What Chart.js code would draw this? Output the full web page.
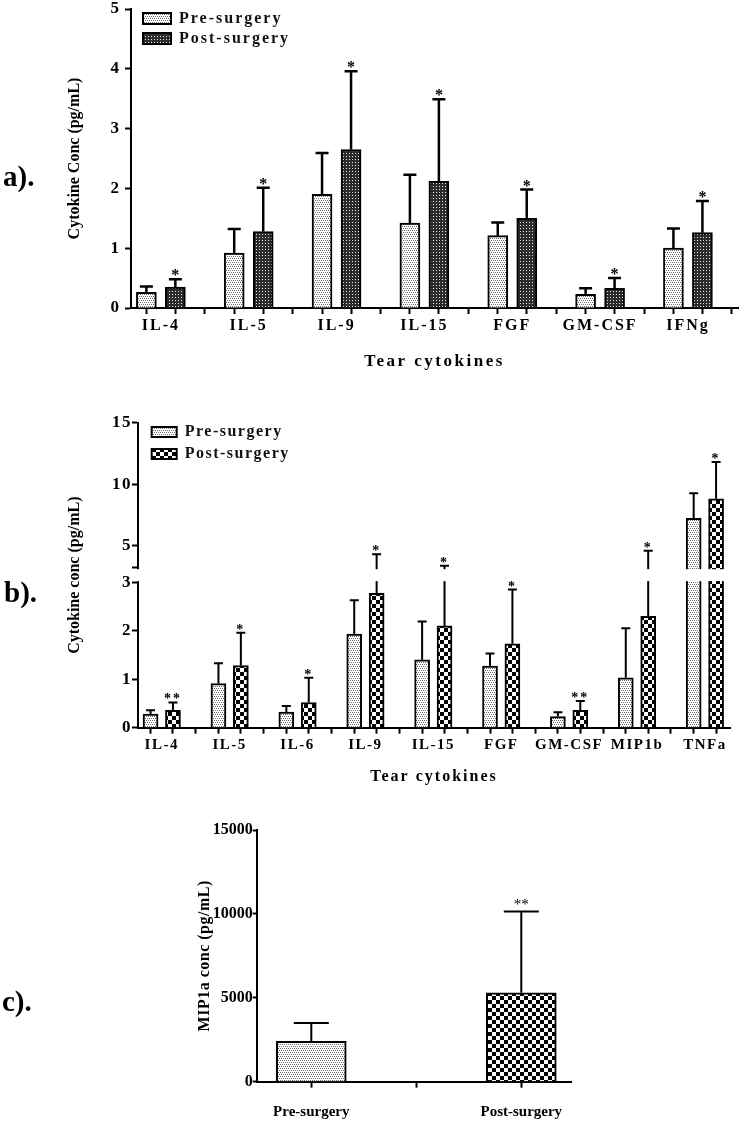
<!DOCTYPE html>
<html>
<head>
<meta charset="utf-8">
<script src="https://cdn.jsdelivr.net/npm/chart.js@4.4.1/dist/chart.umd.min.js"></script>
<style>
html,body{margin:0;padding:0;background:#fff;}
#page{position:relative;width:750px;height:1125px;overflow:hidden;background:#fff;}
canvas{position:absolute;left:0;}
.plabel{position:absolute;font-family:'Liberation Serif','Times New Roman',serif;font-weight:bold;font-size:29px;line-height:1;color:#000;}
</style>
</head>
<body>
<div id="page">
  <canvas id="cA" width="750" height="410" style="top:-10px"></canvas>
  <canvas id="cB" width="750" height="400" style="top:400px"></canvas>
  <canvas id="cC" width="750" height="325" style="top:800px"></canvas>
  <div class="plabel" style="left:3px;top:162px">a).</div>
  <div class="plabel" style="left:4px;top:578px">b).</div>
  <div class="plabel" style="left:2px;top:987px">c).</div>
</div>
<script>
// ---------------- DATA ----------------
const seriesNames = ['Pre-surgery', 'Post-surgery'];

// Panel a
const catsA = ['IL-4', 'IL-5', 'IL-9', 'IL-15', 'FGF', 'GM-CSF', 'IFNg'];
const preA = [0.26, 0.92, 1.90, 1.42, 1.21, 0.23, 1.00];
const preErrA = [0.36, 1.32, 2.59, 2.23, 1.43, 0.33, 1.33];
const postA = [0.35, 1.28, 2.65, 2.12, 1.50, 0.33, 1.26];
const postErrA = [0.48, 2.01, 3.96, 3.49, 1.98, 0.50, 1.79];
const starsA = ['*', '*', '*', '*', '*', '*', '*'];
const yTicksA = [0, 1, 2, 3, 4, 5];

// Panel b
const catsB = ['IL-4', 'IL-5', 'IL-6', 'IL-9', 'IL-15', 'FGF', 'GM-CSF', 'MIP1b', 'TNFa'];
const preB = [0.28, 0.91, 0.32, 1.93, 1.40, 1.27, 0.23, 1.03, 7.23];
const preErrB = [0.36, 1.33, 0.45, 2.63, 2.19, 1.53, 0.32, 2.05, 9.26];
const postB = [0.36, 1.28, 0.52, 2.77, 2.10, 1.73, 0.36, 2.30, 8.82];
const postErrB = [0.52, 1.96, 1.03, 4.30, 3.37, 2.85, 0.55, 4.59, 11.80];
const starsB = ['**', '*', '*', '*', '*', '*', '**', '*', '*'];
const yTicksLowB = [0, 1, 2, 3];
const yTicksHighB = [5, 10, 15];
const breakLowB = 3;      // top of lower segment
const breakHighB = 3.19;  // bottom of upper segment

// Panel c
const catsC = ['Pre-surgery', 'Post-surgery'];
const mipC = [2400, 5300];
const mipErrC = [3500, 10150];
const starsC = ['', '**'];
const yTicksC = [0, 5000, 10000, 15000];

// ---------------- STYLE HELPERS ----------------
const FONT = "'Liberation Serif', 'Times New Roman', serif";

function tile(ctx, w, h, draw) {
  const c = document.createElement('canvas');
  c.width = w; c.height = h;
  draw(c.getContext('2d'));
  return ctx.createPattern(c, 'repeat');
}
function stipple(ctx) {
  return tile(ctx, 4, 4, g => {
    g.fillStyle = '#fff'; g.fillRect(0, 0, 4, 4);
    g.fillStyle = '#6e6e6e';
    [[0, 0], [2, 0], [1, 2], [3, 2]].forEach(([x, y]) => g.fillRect(x, y, 1, 1));
  });
}
function mesh(ctx) {
  return tile(ctx, 3, 3, g => {
    g.fillStyle = '#2c2c2c'; g.fillRect(0, 0, 3, 3);
    g.fillStyle = '#e6e6e6'; g.fillRect(1, 1, 1, 1);
  });
}
function checker(ctx, s) {
  return tile(ctx, 2 * s, 2 * s, g => {
    g.fillStyle = '#fff'; g.fillRect(0, 0, 2 * s, 2 * s);
    g.fillStyle = '#000'; g.fillRect(0, 0, s, s); g.fillRect(s, s, s, s);
  });
}

// x tick positions: bar centres, category centres (label only) and category boundaries
function xTickValues(n, catPct, min, max) {
  const off = catPct / 4, out = [];
  for (let k = 0; k < n; k++) { out.push(k - off, k, k + off, k + 0.5); }
  return out.filter(v => v >= min && v <= max).sort((a, b) => a - b);
}
const isInt = v => Math.abs(v - Math.round(v)) < 1e-6;
const labelAt = cats => v => isInt(v) ? (cats[Math.round(v)] || '') : '';
const xy = arr => arr.map((v, i) => ({ x: i, y: v }));

// ---------------- CUSTOM BROKEN SCALE ----------------
class BrokenScale extends Chart.LinearScale {
  static id = 'broken';
  _dec(v) {
    const o = this.options.breakAxis;
    const min = this.min, max = this.max;
    if (v <= o.low) return (v - min) / (o.low - min) * o.lowFrac;
    if (v >= o.high) return o.highFrac + (v - o.high) / (max - o.high) * (1 - o.highFrac);
    return o.lowFrac + (v - o.low) / (o.high - o.low) * (o.highFrac - o.lowFrac);
  }
  getPixelForValue(v) {
    if (v === null || v === undefined || isNaN(v)) return NaN;
    return this.getPixelForDecimal(this._dec(v));
  }
  getValueForPixel(p) {
    const d = this.getDecimalForPixel(p);
    const o = this.options.breakAxis;
    if (d <= o.lowFrac) return this.min + d / o.lowFrac * (o.low - this.min);
    if (d >= o.highFrac) return o.high + (d - o.highFrac) / (1 - o.highFrac) * (this.max - o.high);
    return o.low + (d - o.lowFrac) / (o.highFrac - o.lowFrac) * (o.high - o.low);
  }
}
Chart.register(BrokenScale);

// ---------------- PLUGINS ----------------
const spacingPlugin = {
  id: 'spacing',
  beforeUpdate(chart, args, opts) { chart.ctx.letterSpacing = opts.base || '0px'; },
  beforeDraw(chart, args, opts) {
    chart.ctx.letterSpacing = opts.base || '0px';
    const titles = opts.titles || {};
    Object.keys(chart.scales).forEach(id => {
      const s = chart.scales[id];
      if (s.__lsWrapped || titles[id] === undefined) return;
      const ls = titles[id];
      const orig = s.drawTitle;
      s.drawTitle = function () {
        const c = this.ctx, prev = c.letterSpacing;
        c.letterSpacing = ls;
        orig.apply(this, arguments);
        c.letterSpacing = prev;
      };
      s.__lsWrapped = true;
    });
  }
};

const legendPosPlugin = {
  id: 'legendPos',
  afterLayout(chart, args, opts) {
    const lg = chart.legend;
    if (!lg || opts.x === undefined) return;
    lg.left = opts.x; lg.top = opts.y;
    lg.right = opts.x + lg.width; lg.bottom = opts.y + 200;
  }
};

const errorBarPlugin = {
  id: 'errorBars',
  afterDatasetsDraw(chart, args, opts) {
    const ctx = chart.ctx, yScale = chart.scales.y;
    chart.data.datasets.forEach((ds, di) => {
      if (!ds.errors) return;
      const meta = chart.getDatasetMeta(di);
      meta.data.forEach((bar, i) => {
        const e = ds.errors[i];
        if (e === null || e === undefined) return;
        const x = bar.x, yTop = bar.y, yE = yScale.getPixelForValue(e);
        ctx.save();
        ctx.strokeStyle = '#000';
        ctx.lineWidth = opts.lineWidth;
        ctx.beginPath();
        ctx.moveTo(x, yTop); ctx.lineTo(x, yE);
        ctx.moveTo(x - opts.cap / 2, yE); ctx.lineTo(x + opts.cap / 2, yE);
        ctx.stroke();
        const s = ds.stars && ds.stars[i];
        if (s) {
          ctx.fillStyle = '#000';
          ctx.font = opts.starFont;
          ctx.letterSpacing = opts.starSpacing || '0px';
          ctx.textAlign = 'center';
          ctx.textBaseline = 'alphabetic';
          ctx.fillText(s, x, yE + opts.starDy);
        }
        ctx.restore();
      });
    });
    const br = yScale.options.breakAxis;
    if (br) {
      const yHi = yScale.getPixelForValue(br.high), yLo = yScale.getPixelForValue(br.low);
      const ca = chart.chartArea;
      ctx.save();
      ctx.fillStyle = '#fff';
      ctx.fillRect(ca.left - 4, yHi + 1.2, ca.right - ca.left + 8, (yLo - 1.2) - (yHi + 1.2));
      ctx.restore();
    }
  }
};

function barDataset(label, values, errors, stars, bg, catPct, barPct) {
  return {
    label, data: xy(values), errors, stars,
    backgroundColor: bg, borderColor: '#000', borderWidth: 2,
    barThickness: 'flex', categoryPercentage: catPct, barPercentage: barPct
  };
}

function xScale(cats, min, max, catPct, opts) {
  const vals = xTickValues(cats.length, catPct, min, max);
  return {
    type: 'linear', min, max, offset: false,
    afterBuildTicks: s => { s.ticks = vals.map(v => ({ value: v })); },
    afterFit: s => { s.height = opts.height; },
    grid: {
      display: true, drawOnChartArea: false, offset: false,
      tickLength: opts.tickLength, tickWidth: 2,
      tickColor: c => (opts.hideCentreTicks && c.tick && isInt(c.tick.value)) ? 'rgba(0,0,0,0)' : '#000'
    },
    border: { display: true, color: '#000', width: 2 },
    ticks: {
      autoSkip: false, maxRotation: 0, minRotation: 0, padding: opts.labelPad, color: '#000',
      font: { family: FONT, size: opts.fontSize, weight: 'bold' },
      callback: labelAt(cats)
    },
    title: opts.title ? {
      display: true, text: opts.title, color: '#000',
      font: { family: FONT, size: opts.titleSize, weight: 'bold' },
      padding: { top: 0, bottom: opts.titlePad }
    } : { display: false }
  };
}

// ---------------- PANEL A ----------------
(function () {
  const canvas = document.getElementById('cA');
  const ctx = canvas.getContext('2d');
  const catPct = 0.66;
  new Chart(ctx, {
    type: 'bar',
    data: {
      datasets: [
        barDataset(seriesNames[0], preA, preErrA, null, stipple(ctx), catPct, 0.69),
        barDataset(seriesNames[1], postA, postErrA, starsA, mesh(ctx), catPct, 0.69)
      ]
    },
    options: {
      responsive: false, animation: false, events: [],
      layout: { padding: { left: 0, right: 12, top: 19, bottom: 0 } },
      scales: {
        x: xScale(catsA, -0.34, 6.57, catPct, {
          height: 92, tickLength: 6, labelPad: 2, fontSize: 16, hideCentreTicks: true,
          title: 'Tear cytokines', titleSize: 17, titlePad: 28
        }),
        y: {
          type: 'linear', min: 0, max: 5,
          afterBuildTicks: s => { s.ticks = yTicksA.map(v => ({ value: v })); },
          afterFit: s => { s.width = 131; },
          grid: { display: true, drawOnChartArea: false, tickLength: 6, tickWidth: 2, tickColor: '#000' },
          border: { display: true, color: '#000', width: 2 },
          ticks: { padding: 4, color: '#000', font: { family: FONT, size: 17, weight: 'bold', lineHeight: 1 }, callback: v => String(v) },
          title: { display: true, text: 'Cytokine Conc (pg/mL)', color: '#000', font: { family: FONT, size: 16, weight: 'bold' }, padding: { top: 65.5, bottom: 0 } }
        }
      },
      plugins: {
        legend: {
          position: 'chartArea', align: 'start',
          labels: { boxWidth: 28, boxHeight: 11, padding: 4, color: '#111', font: { family: FONT, size: 16, weight: 'bold' } }
        },
        tooltip: { enabled: false },
        legendPos: { x: 139, y: 16.5 },
        errorBars: { lineWidth: 2.5, cap: 13, starFont: 'bold 16px ' + FONT, starDy: 1 },
        spacing: { base: '2px', titles: { y: '0px', x: '2.5px' } }
      }
    },
    plugins: [spacingPlugin, legendPosPlugin, errorBarPlugin]
  });
})();

// ---------------- PANEL B ----------------
(function () {
  const canvas = document.getElementById('cB');
  const ctx = canvas.getContext('2d');
  const catPct = 0.66;
  const yTicks = [...yTicksLowB, breakHighB, ...yTicksHighB];
  new Chart(ctx, {
    type: 'bar',
    data: {
      datasets: [
        barDataset(seriesNames[0], preB, preErrB, null, stipple(ctx), catPct, 0.67),
        barDataset(seriesNames[1], postB, postErrB, starsB, checker(ctx, 4), catPct, 0.67)
      ]
    },
    options: {
      responsive: false, animation: false, events: [],
      layout: { padding: { left: 0, right: 20, top: 22.7, bottom: 0 } },
      scales: {
        x: xScale(catsB, -0.35, 8.37, catPct, {
          height: 72.3, tickLength: 6, labelPad: 2, fontSize: 15, hideCentreTicks: true,
          title: 'Tear cytokines', titleSize: 16, titlePad: 13.4
        }),
        y: {
          type: 'broken', min: 0, max: 15,
          breakAxis: { low: breakLowB, high: breakHighB, lowFrac: 145.4 / 305, highFrac: 159.7 / 305 },
          afterBuildTicks: s => { s.ticks = yTicks.map(v => ({ value: v })); },
          afterFit: s => { s.width = 138; },
          grid: { display: true, drawOnChartArea: false, tickLength: 6, tickWidth: 2, tickColor: '#000' },
          border: { display: true, color: '#000', width: 2 },
          ticks: { padding: 0, color: '#000', font: { family: FONT, size: 17, weight: 'bold', lineHeight: 1 },
                   callback: v => (v === breakHighB ? '' : String(v)) },
          title: { display: true, text: 'Cytokine conc (pg/mL)', color: '#000', font: { family: FONT, size: 16, weight: 'bold' }, padding: { top: 65, bottom: 0 } }
        }
      },
      plugins: {
        legend: {
          position: 'chartArea', align: 'start',
          labels: { boxWidth: 25, boxHeight: 10, padding: 6, color: '#111', font: { family: FONT, size: 16, weight: 'bold' } }
        },
        tooltip: { enabled: false },
        legendPos: { x: 145.7, y: 18 },
        errorBars: { lineWidth: 2, cap: 9, starFont: 'bold 14px ' + FONT, starDy: 1, starSpacing: '2px' },
        spacing: { base: '1.5px', titles: { y: '0px', x: '2px' } }
      }
    },
    plugins: [spacingPlugin, legendPosPlugin, errorBarPlugin]
  });
})();

// ---------------- PANEL C ----------------
(function () {
  const canvas = document.getElementById('cC');
  const ctx = canvas.getContext('2d');
  const xVals = [0, 0.5, 1];
  new Chart(ctx, {
    type: 'bar',
    data: {
      datasets: [{
        label: 'MIP1a', data: xy(mipC), errors: mipErrC, stars: starsC,
        backgroundColor: [stipple(ctx), checker(ctx, 4)], borderColor: '#000', borderWidth: 2,
        barThickness: 'flex', categoryPercentage: 1, barPercentage: 0.333
      }]
    },
    options: {
      responsive: false, animation: false, events: [],
      layout: { padding: { left: 0, right: 178.3, top: 30, bottom: 0 } },
      scales: {
        x: {
          type: 'linear', min: -0.26, max: 1.24, offset: false,
          afterBuildTicks: s => { s.ticks = xVals.map(v => ({ value: v })); },
          afterFit: s => { s.height = 43.3; },
          grid: { display: true, drawOnChartArea: false, offset: false, tickLength: 6, tickWidth: 2, tickColor: '#000' },
          border: { display: true, color: '#000', width: 2 },
          ticks: { autoSkip: false, maxRotation: 0, minRotation: 0, padding: 15, color: '#000',
                   font: { family: FONT, size: 15, weight: 'bold' }, callback: labelAt(catsC) }
        },
        y: {
          type: 'linear', min: 0, max: 15000,
          afterBuildTicks: s => { s.ticks = yTicksC.map(v => ({ value: v })); },
          afterFit: s => { s.width = 256.7; },
          grid: { display: true, drawOnChartArea: false, tickLength: 4, tickWidth: 2, tickColor: '#000' },
          border: { display: true, color: '#000', width: 2 },
          ticks: { padding: 0, color: '#000', font: { family: FONT, size: 16, weight: 'bold', lineHeight: 1 }, callback: v => String(v) },
          title: { display: true, text: 'MIP1a conc (pg/mL)', color: '#000', font: { family: FONT, size: 16, weight: 'bold' }, padding: { top: 195.5, bottom: 0 } }
        }
      },
      plugins: {
        legend: { display: false },
        tooltip: { enabled: false },
        errorBars: { lineWidth: 2, cap: 35, starFont: '15px ' + FONT, starDy: -2 },
        spacing: { base: '0px', titles: { y: '0.5px' } }
      }
    },
    plugins: [spacingPlugin, errorBarPlugin]
  });
})();
</script>
</body>
</html>
